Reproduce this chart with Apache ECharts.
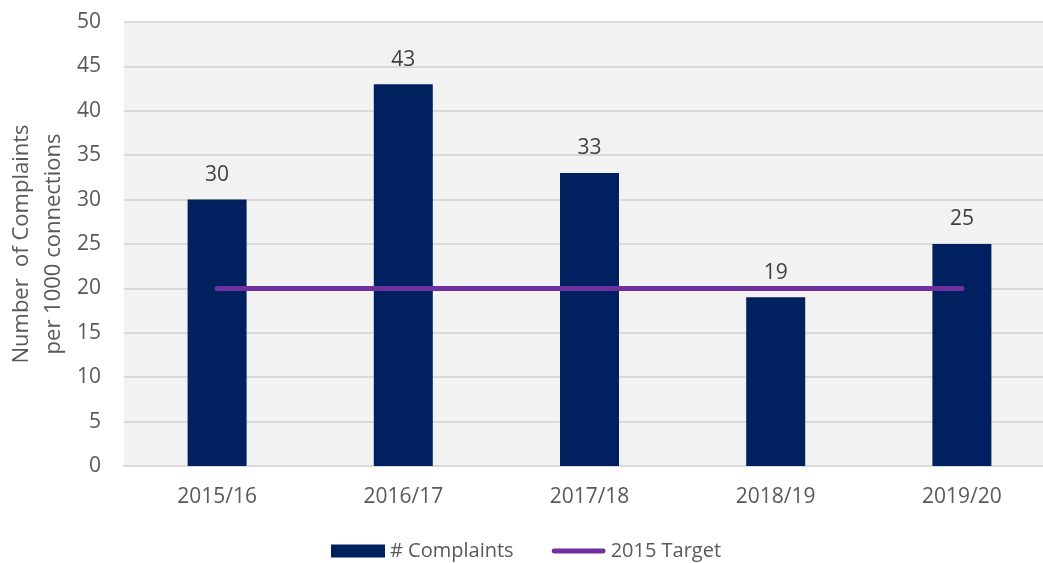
<!DOCTYPE html>
<html>
<head>
<meta charset="utf-8">
<script src="https://cdn.jsdelivr.net/npm/echarts@6/dist/echarts.min.js"></script>
<style>
  html, body { margin: 0; padding: 0; background: #fff; }
  #chart { width: 1043px; height: 563px; }
</style>
</head>
<body>
<div id="chart"></div>
<script>
const years = ['2015/16', '2016/17', '2017/18', '2018/19', '2019/20']
const complaints = [30, 43, 33, 19, 25]
const target = [20, 20, 20, 20, 20]

const chart = echarts.init(document.getElementById('chart'))

// legend icon for the target line: a thick bar with round ends
const lineIcon = 'path://M2.5,0 L53.5,0 A2.5,2.5 0 0 1 53.5,5 L2.5,5 A2.5,2.5 0 0 1 2.5,0 Z'

const option = {
  backgroundColor: '#fff',
  textStyle: { fontFamily: 'Open Sans' },
  grid: {
    left: 124,
    top: 22,
    width: 931,
    bottom: 97,
    outerBoundsMode: 'none',
    containLabel: false,
    show: true,
    backgroundColor: '#f2f2f2',
    borderWidth: 0
  },
  legend: {
    bottom: -3,
    left: 326,
    itemWidth: 54,
    itemHeight: 13,
    itemGap: 38,
    textStyle: { color: '#595959', fontSize: 20, fontFamily: 'Open Sans' },
    data: [
      { name: '# Complaints', icon: 'rect', itemStyle: { color: '#002060' } },
      { name: '2015 Target', icon: lineIcon }
    ]
  },
  xAxis: {
    type: 'category',
    data: years,
    axisLine: { lineStyle: { color: '#d9d9d9', width: 2 } },
    axisTick: { show: false },
    axisLabel: { color: '#595959', fontSize: 21, margin: 21 }
  },
  yAxis: {
    type: 'value',
    min: 0,
    max: 50,
    interval: 5,
    name: 'Number  of Complaints\nper 1000 connections',
    nameLocation: 'middle',
    nameGap: 54,
    nameMoveOverlap: false,
    nameTextStyle: { color: '#595959', fontSize: 22, lineHeight: 32 },
    axisLine: { show: false },
    axisTick: { show: false },
    axisLabel: { color: '#595959', fontSize: 21, margin: 23 },
    splitLine: { lineStyle: { color: '#d9d9d9', width: 2 } }
  },
  series: [
    {
      name: '# Complaints',
      type: 'bar',
      data: complaints,
      barWidth: 59,
      itemStyle: { color: '#002060' },
      label: {
        show: true,
        position: 'top',
        distance: 14,
        color: '#404040',
        fontSize: 21
      }
    },
    {
      name: '2015 Target',
      type: 'line',
      data: target,
      symbol: 'none',
      lineStyle: { color: '#7030a0', width: 5, cap: 'round' },
      itemStyle: { color: '#7030a0' }
    }
  ]
}

chart.setOption(option)
</script>
</body>
</html>
